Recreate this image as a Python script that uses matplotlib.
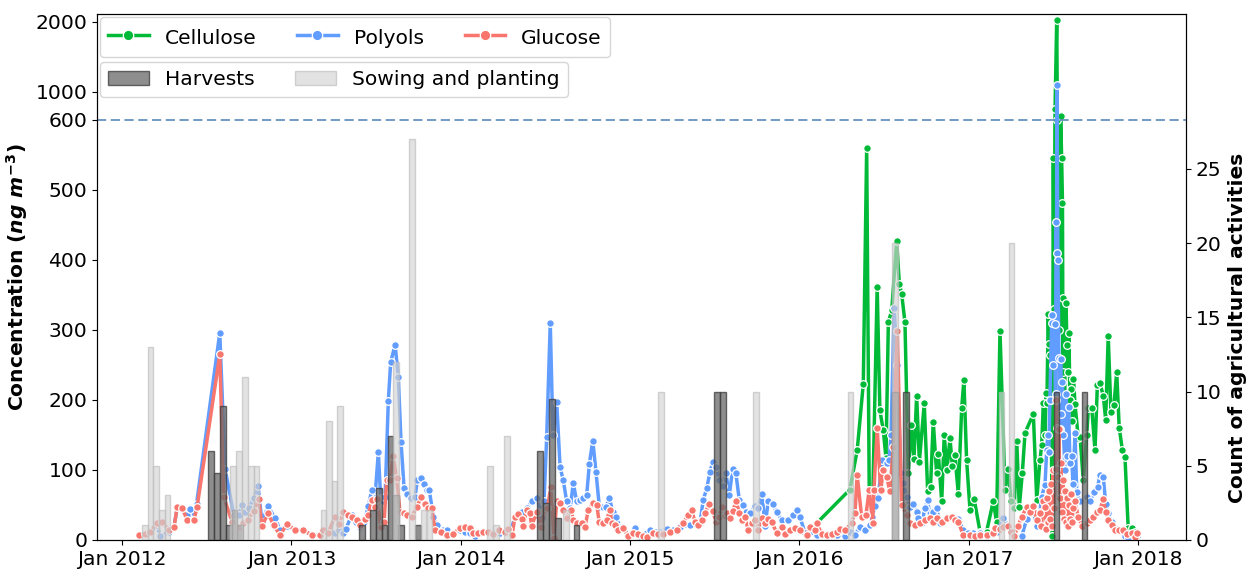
import numpy as np
import pandas as pd
import matplotlib
matplotlib.use("Agg")
import matplotlib.pyplot as plt
import matplotlib.dates as mdates
from matplotlib.lines import Line2D
from matplotlib.patches import Patch

plt.rcParams['font.family'] = ['DejaVu Sans']
plt.rcParams['mathtext.fontset'] = 'custom'
plt.rcParams['mathtext.it'] = 'DejaVu Sans:italic:bold'
plt.rcParams['mathtext.rm'] = 'DejaVu Sans:bold'

# ---------------- data (dates as decimal years) ----------------
glucose_years = [2012.102, 2012.139, 2012.168, 2012.210, 2012.239, 2012.280, 2012.310, 2012.328, 2012.357, 2012.387,
                 2012.428, 2012.446, 2012.580, 2012.603, 2012.652, 2012.692, 2012.717, 2012.747, 2012.780, 2012.810,
                 2012.829, 2012.865, 2012.898, 2012.936, 2012.977, 2013.024, 2013.071, 2013.124, 2013.172, 2013.189,
                 2013.219, 2013.260, 2013.284, 2013.308, 2013.337, 2013.360, 2013.388, 2013.408, 2013.437, 2013.457,
                 2013.477, 2013.496, 2013.510, 2013.530, 2013.550, 2013.565, 2013.585, 2013.604, 2013.624, 2013.644,
                 2013.668, 2013.685, 2013.713, 2013.743, 2013.768, 2013.791, 2013.811, 2013.831, 2013.851, 2013.884,
                 2013.921, 2013.957, 2013.998, 2014.028, 2014.057, 2014.075, 2014.104, 2014.134, 2014.163, 2014.193,
                 2014.228, 2014.264, 2014.281, 2014.305, 2014.323, 2014.341, 2014.364, 2014.372, 2014.392, 2014.411,
                 2014.421, 2014.451, 2014.476, 2014.500, 2014.514, 2014.534, 2014.553, 2014.569, 2014.588, 2014.608,
                 2014.628, 2014.652, 2014.667, 2014.688, 2014.717, 2014.736, 2014.756, 2014.785, 2014.805, 2014.820,
                 2014.844, 2014.864, 2014.884, 2014.894, 2014.913, 2014.933, 2014.962, 2014.992, 2015.021, 2015.051,
                 2015.077, 2015.100, 2015.139, 2015.167, 2015.196, 2015.238, 2015.277, 2015.316, 2015.346, 2015.366,
                 2015.385, 2015.405, 2015.425, 2015.444, 2015.470, 2015.490, 2015.509, 2015.529, 2015.543, 2015.562,
                 2015.576, 2015.592, 2015.611, 2015.627, 2015.647, 2015.661, 2015.681, 2015.700, 2015.720, 2015.740,
                 2015.759, 2015.779, 2015.799, 2015.818, 2015.838, 2015.868, 2015.897, 2015.917, 2015.946, 2015.976,
                 2016.005, 2016.045, 2016.064, 2016.094, 2016.104, 2016.133, 2016.163, 2016.192, 2016.222, 2016.241,
                 2016.271, 2016.310, 2016.330, 2016.343, 2016.369, 2016.395, 2016.414, 2016.434, 2016.442, 2016.461,
                 2016.482, 2016.497, 2016.517, 2016.536, 2016.556, 2016.580, 2016.605, 2016.635, 2016.655, 2016.684,
                 2016.713, 2016.743, 2016.772, 2016.792, 2016.812, 2016.842, 2016.871, 2016.901, 2016.920, 2016.940,
                 2016.969, 2017.009, 2017.038, 2017.068, 2017.107, 2017.146, 2017.156, 2017.186, 2017.205, 2017.235,
                 2017.251, 2017.270, 2017.292, 2017.314, 2017.344, 2017.363, 2017.383, 2017.403, 2017.422, 2017.431,
                 2017.440, 2017.452, 2017.458, 2017.463, 2017.469, 2017.475, 2017.481, 2017.487, 2017.493, 2017.499,
                 2017.505, 2017.514, 2017.518, 2017.522, 2017.528, 2017.534, 2017.540, 2017.546, 2017.552, 2017.558,
                 2017.564, 2017.570, 2017.576, 2017.581, 2017.587, 2017.593, 2017.599, 2017.605, 2017.611, 2017.617,
                 2017.629, 2017.648, 2017.670, 2017.698, 2017.717, 2017.737, 2017.757, 2017.776, 2017.796, 2017.810,
                 2017.825, 2017.845, 2017.865, 2017.888, 2017.914, 2017.936, 2017.963, 2017.983, 2017.993]
glucose = [7, 9, 11, 24, 26, 14, 18, 47, 46, 29,
           29, 47, 265, 62, 26, 19, 24, 28, 42, 58,
           20, 38, 21, 7, 23, 14, 14, 7, 7, 14,
           10, 33, 23, 40, 36, 33, 28, 21, 30, 36,
           57, 47, 58, 19, 25, 85, 85, 120, 88, 40,
           38, 36, 33, 47, 61, 52, 45, 45, 14, 12,
           7, 9, 17, 18, 17, 10, 10, 12, 12, 9,
           14, 12, 16, 7, 33, 37, 30, 20, 43, 38,
           20, 40, 19, 43, 46, 75, 3, 55, 53, 43,
           31, 43, 29, 24, 24, 19, 43, 53, 50, 26,
           24, 29, 43, 24, 21, 14, 17, 5, 10, 9,
           5, 4, 10, 9, 9, 12, 14, 24, 36, 43,
           26, 21, 29, 39, 51, 42, 26, 33, 47, 36,
           39, 31, 42, 56, 39, 29, 33, 14, 24, 29,
           14, 31, 24, 30, 26, 10, 19, 9, 14, 17,
           14, 7, 19, 14, 24, 9, 7, 9, 12, 16,
           14, 24, 38, 93, 33, 36, 72, 24, 71, 160,
           71, 100, 90, 70, 133, 299, 50, 36, 24, 21,
           24, 29, 31, 26, 31, 26, 31, 33, 29, 26,
           7, 7, 5, 7, 7, 10, 17, 15, 19, 20,
           12, 5, 20, 33, 47, 40, 49, 29, 38, 20,
           55, 47, 15, 60, 25, 70, 30, 80, 20, 100,
           45, 101, 200, 160, 90, 159, 60, 110, 40, 85,
           30, 70, 25, 60, 20, 50, 30, 65, 25, 45,
           55, 33, 20, 24, 29, 33, 40, 43, 58, 40,
           29, 21, 14, 14, 14, 8, 10, 4, 10]

polyols_years = [2012.102, 2012.168, 2012.210, 2012.229, 2012.280, 2012.310, 2012.328, 2012.357, 2012.387, 2012.404,
                 2012.428, 2012.443, 2012.580, 2012.611, 2012.662, 2012.692, 2012.711, 2012.729, 2012.753, 2012.780,
                 2012.806, 2012.829, 2012.865, 2012.906, 2012.936, 2012.977, 2013.024, 2013.071, 2013.124, 2013.172,
                 2013.219, 2013.260, 2013.284, 2013.308, 2013.325, 2013.359, 2013.384, 2013.408, 2013.431, 2013.457,
                 2013.477, 2013.496, 2013.516, 2013.530, 2013.544, 2013.556, 2013.575, 2013.589, 2013.615, 2013.634,
                 2013.650, 2013.668, 2013.685, 2013.709, 2013.733, 2013.746, 2013.766, 2013.786, 2013.802, 2013.817,
                 2013.841, 2013.862, 2013.898, 2013.921, 2013.957, 2013.998, 2014.028, 2014.057, 2014.087, 2014.116,
                 2014.145, 2014.175, 2014.205, 2014.234, 2014.264, 2014.293, 2014.323, 2014.341, 2014.364, 2014.392,
                 2014.421, 2014.455, 2014.480, 2014.494, 2014.510, 2014.531, 2014.547, 2014.569, 2014.589, 2014.608,
                 2014.628, 2014.648, 2014.667, 2014.687, 2014.707, 2014.726, 2014.746, 2014.762, 2014.782, 2014.801,
                 2014.821, 2014.841, 2014.860, 2014.880, 2014.900, 2014.919, 2014.943, 2014.962, 2014.992, 2015.031,
                 2015.061, 2015.120, 2015.179, 2015.218, 2015.256, 2015.297, 2015.356, 2015.415, 2015.434, 2015.455,
                 2015.474, 2015.490, 2015.509, 2015.529, 2015.549, 2015.568, 2015.588, 2015.608, 2015.627, 2015.647,
                 2015.667, 2015.687, 2015.710, 2015.740, 2015.759, 2015.781, 2015.799, 2015.818, 2015.844, 2015.868,
                 2015.897, 2015.934, 2015.966, 2015.989, 2016.005, 2016.035, 2016.064, 2016.104, 2016.163, 2016.222,
                 2016.271, 2016.300, 2016.330, 2016.359, 2016.389, 2016.418, 2016.430, 2016.448, 2016.468, 2016.488,
                 2016.501, 2016.517, 2016.531, 2016.543, 2016.561, 2016.580, 2016.600, 2016.615, 2016.635, 2016.655,
                 2016.674, 2016.694, 2016.704, 2016.724, 2016.743, 2016.759, 2016.773, 2016.792, 2016.812, 2016.832,
                 2016.861, 2016.907, 2016.940, 2016.969, 2016.997, 2017.028, 2017.068, 2017.107, 2017.146, 2017.168,
                 2017.205, 2017.235, 2017.270, 2017.314, 2017.344, 2017.363, 2017.383, 2017.403, 2017.422, 2017.432,
                 2017.452, 2017.462, 2017.468, 2017.474, 2017.481, 2017.491, 2017.495, 2017.499, 2017.508, 2017.514,
                 2017.517, 2017.520, 2017.522, 2017.528, 2017.534, 2017.540, 2017.544, 2017.549, 2017.555, 2017.561,
                 2017.570, 2017.576, 2017.581, 2017.591, 2017.599, 2017.609, 2017.617, 2017.629, 2017.639, 2017.659,
                 2017.698, 2017.717, 2017.743, 2017.763, 2017.776, 2017.796, 2017.810, 2017.825, 2017.845, 2017.865,
                 2017.894, 2017.924, 2017.943, 2017.963, 2017.993]
polyols = [5, 10, 22, 5, 12, 20, 45, 44, 35, 44,
           30, 52, 296, 102, 36, 36, 50, 40, 45, 60,
           77, 25, 48, 31, 14, 20, 14, 14, 7, 7,
           8, 10, 14, 10, 16, 36, 25, 19, 25, 48,
           71, 60, 125, 60, 55, 62, 199, 254, 279, 233,
           140, 74, 65, 60, 62, 85, 88, 80, 71, 71,
           33, 22, 14, 14, 10, 14, 12, 10, 5, 10,
           12, 10, 8, 10, 12, 10, 33, 37, 40, 45,
           55, 60, 31, 55, 147, 310, 150, 197, 104, 85,
           55, 45, 81, 55, 57, 60, 64, 109, 142, 97,
           47, 47, 47, 60, 40, 33, 19, 19, 5, 17,
           5, 14, 12, 16, 14, 19, 21, 24, 57, 74,
           97, 112, 104, 85, 77, 95, 64, 102, 95, 57,
           50, 40, 38, 48, 45, 65, 20, 55, 52, 40,
           29, 29, 36, 43, 33, 10, 12, 7, 5, 7,
           5, 12, 7, 19, 14, 21, 33, 48, 60, 114,
           100, 110, 114, 150, 331, 250, 95, 81, 62, 47,
           52, 40, 31, 24, 45, 57, 31, 40, 45, 24,
           30, 33, 30, 14, 10, 10, 10, 5, 8, 12,
           31, 20, 4, 5, 30, 45, 40, 20, 40, 62,
           79, 129, 150, 126, 200, 310, 322, 250, 308, 208,
           454, 410, 1100, 400, 260, 159, 259, 180, 225, 150,
           100, 209, 120, 190, 110, 120, 80, 153, 69, 55,
           62, 55, 69, 76, 93, 90, 52, 38, 25, 17,
           14, 5, 3, 8, 5]

cellulose_years = [2016.035, 2016.104, 2016.300, 2016.343, 2016.379, 2016.399, 2016.414, 2016.436, 2016.461, 2016.477,
                   2016.497, 2016.513, 2016.527, 2016.547, 2016.576, 2016.592, 2016.606, 2016.625, 2016.645, 2016.661,
                   2016.678, 2016.694, 2016.710, 2016.739, 2016.759, 2016.776, 2016.792, 2016.812, 2016.822, 2016.842,
                   2016.857, 2016.873, 2016.891, 2016.905, 2016.920, 2016.940, 2016.960, 2016.973, 2016.989, 2017.009,
                   2017.034, 2017.068, 2017.107, 2017.146, 2017.166, 2017.186, 2017.216, 2017.235, 2017.251, 2017.270,
                   2017.285, 2017.300, 2017.318, 2017.334, 2017.383, 2017.403, 2017.422, 2017.432, 2017.442, 2017.452,
                   2017.458, 2017.463, 2017.471, 2017.475, 2017.481, 2017.487, 2017.495, 2017.501, 2017.505, 2017.511,
                   2017.521, 2017.525, 2017.534, 2017.544, 2017.550, 2017.555, 2017.558, 2017.561, 2017.567, 2017.576,
                   2017.581, 2017.589, 2017.593, 2017.599, 2017.605, 2017.614, 2017.620, 2017.629, 2017.648, 2017.659,
                   2017.678, 2017.698, 2017.708, 2017.728, 2017.747, 2017.761, 2017.776, 2017.796, 2017.810, 2017.825,
                   2017.841, 2017.859, 2017.875, 2017.890, 2017.909, 2017.924, 2017.943, 2017.963, 2017.983]
cellulose = [10, 24, 72, 128, 223, 560, 72, 72, 362, 185,
             157, 117, 311, 328, 427, 366, 351, 311, 95, 164,
             115, 206, 112, 195, 70, 76, 169, 95, 123, 55,
             150, 100, 145, 105, 121, 66, 189, 228, 114, 43,
             58, 12, 12, 55, 26, 299, 71, 102, 55, 45,
             141, 47, 96, 153, 180, 57, 114, 135, 195, 150,
             210, 196, 323, 280, 264, 200, 5, 546, 330, 750,
             2030, 600, 300, 660, 546, 481, 240, 346, 200, 339,
             279, 240, 295, 200, 215, 170, 230, 194, 146, 147,
             85, 150, 188, 188, 128, 222, 224, 206, 172, 291,
             183, 193, 240, 160, 128, 118, 17, 17, 12]

harvest_years = [2012.528, 2012.564, 2012.599, 2012.635, 2012.667, 2012.700, 2013.420, 2013.485, 2013.520, 2013.553,
                 2013.587, 2013.620, 2013.650, 2013.750, 2014.470, 2014.506, 2014.540, 2014.577, 2014.687, 2015.514,
                 2015.551, 2016.566, 2016.631, 2017.519, 2017.685]
harvest_counts = [6, 4.5, 9, 1, 2, 1, 1, 2, 3.5, 1,
                  7, 3, 1, 1, 6, 2.5, 9.5, 1.5, 1, 10,
                  10, 10, 10, 10, 10]

sowing_years = [2012.139, 2012.171, 2012.204, 2012.239, 2012.272, 2012.658, 2012.694, 2012.729, 2012.764, 2012.797,
                2013.192, 2013.225, 2013.257, 2013.290, 2013.620, 2013.715, 2013.783, 2013.818, 2014.175, 2014.211,
                2014.276, 2014.624, 2015.185, 2015.746, 2016.303, 2016.566, 2017.196, 2017.255]
sowing_counts = [1, 13, 5, 2, 3, 5, 6, 11, 5, 5,
                 2, 8, 4, 9, 12, 27, 2, 2, 5, 1,
                 7, 2, 10, 10, 10, 20, 10, 20]

left_ticks = [0, 100, 200, 300, 400, 500, 600, 1000, 2000]
right_ticks = [0, 5, 10, 15, 20, 25]
threshold = 600


def to_num(years):
    base = pd.Timestamp('2012-01-01')
    dts = base + pd.to_timedelta((np.asarray(years, float) - 2012.0) * 365.25, unit='D')
    return mdates.date2num(dts.to_pydatetime())


def fwd(y):
    y = np.asarray(y, float)
    return np.where(y <= 600, y, 600 + (y - 600) / 10.0)


def inv(y):
    y = np.asarray(y, float)
    return np.where(y <= 600, y, 600 + (y - 600) * 10.0)


C_CEL = '#00BA38'
C_POL = '#619CFF'
C_GLU = '#F8766D'
FS = 14.6

fig = plt.figure(figsize=(12.53, 5.75), dpi=100)
ax = fig.add_axes([0.0774, 0.0609, 0.8691, 0.9148])
ax.set_yscale('function', functions=(fwd, inv))

mk = dict(marker='o', markersize=5.5, markeredgecolor='white', markeredgewidth=0.9, lw=2.5)
ax.plot(to_num(cellulose_years), cellulose, color=C_CEL, **mk)
ax.plot(to_num(polyols_years), polyols, color=C_POL, **mk)
ax.plot(to_num(glucose_years), glucose, color=C_GLU, **mk)
ax.axhline(threshold, color='#4a7fb3', lw=1.1, ls=(0, (6, 3)))

ax.set_ylim(0, 2114)
ax.set_yticks(left_ticks)
ax.set_yticklabels([str(t) for t in left_ticks])
ax.yaxis.set_minor_locator(matplotlib.ticker.NullLocator())
ax.set_xlim(to_num([2011.855])[0], to_num([2018.284])[0])
ax.xaxis.set_major_locator(mdates.YearLocator())
ax.xaxis.set_major_formatter(mdates.DateFormatter('%b %Y'))
ax.tick_params(labelsize=FS)
ax.set_ylabel(r'Concentration ($ng\ m^{-3}$)', fontsize=FS, fontweight='bold')

ax2 = ax.twinx()
ax2.bar(to_num(harvest_years), harvest_counts, width=12, color='dimgray', alpha=0.75,
        edgecolor='#3a3a3a', linewidth=1.0)
ax2.bar(to_num(sowing_years), sowing_counts, width=12, color='lightgray', alpha=0.65,
        edgecolor='#bdbdbd', linewidth=1.0)
ax2.set_ylim(0, 35.44)
ax2.set_yticks(right_ticks)
ax2.tick_params(labelsize=FS)
ax2.set_ylabel('Count of agricultural activities', fontsize=FS, fontweight='bold')
ax2.yaxis.set_label_coords(1.0385, 0.403)

mk_leg = dict(marker='o', markersize=7.5, markeredgecolor='white', markeredgewidth=0.9, lw=2.5)
h1 = [Line2D([], [], color=C_CEL, **mk_leg), Line2D([], [], color=C_POL, **mk_leg),
      Line2D([], [], color=C_GLU, **mk_leg)]
leg1 = ax2.legend(h1, ['Cellulose', 'Polyols', 'Glucose'], ncol=3, loc='upper left', fontsize=FS,
                  borderaxespad=0.15, framealpha=0.8, handleheight=1.45)
ax2.add_artist(leg1)
h2 = [Patch(facecolor='dimgray', alpha=0.75, edgecolor='#3a3a3a'),
      Patch(facecolor='lightgray', alpha=0.65, edgecolor='#bdbdbd')]
ax2.legend(h2, ['Harvests', 'Sowing and planting'], ncol=2, loc='upper left', fontsize=FS,
           bbox_to_anchor=(0.0, 0.9145), borderaxespad=0.15, framealpha=0.8)

fig.savefig('out.png', dpi=100)
